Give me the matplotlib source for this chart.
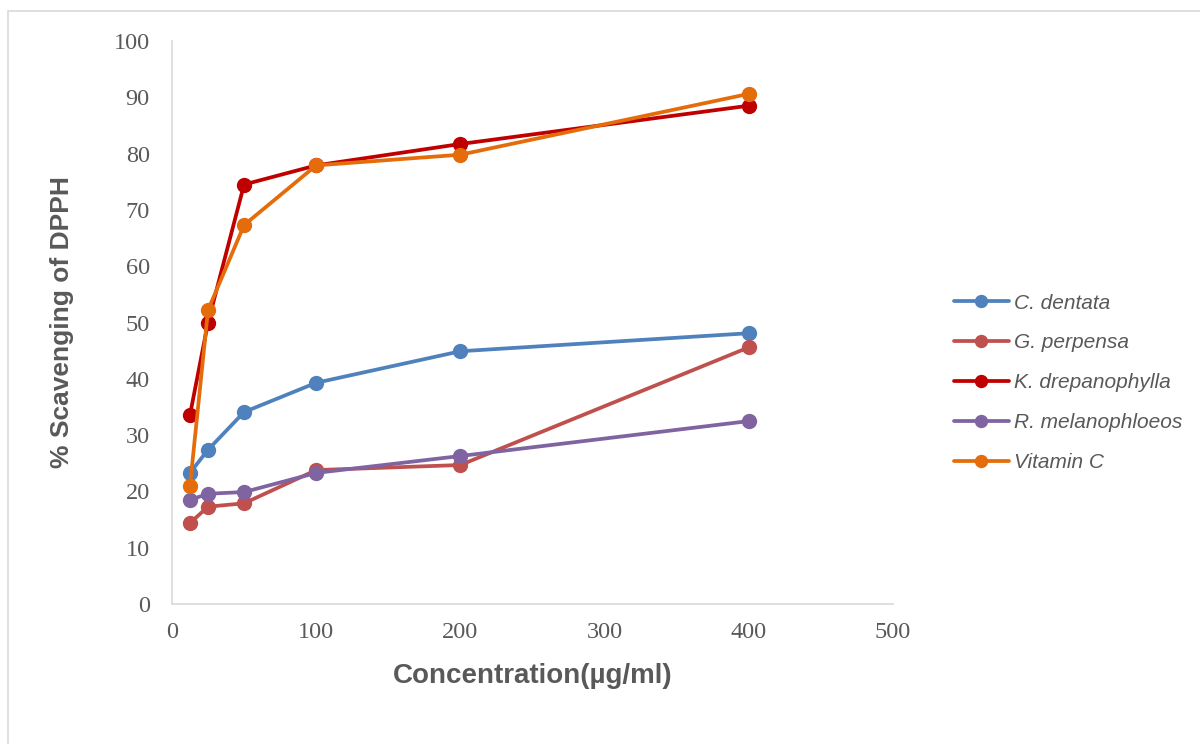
import matplotlib

matplotlib.use("Agg")
import matplotlib.pyplot as plt
from matplotlib.patches import Rectangle

# DPPH radical scavenging (%) against extract concentration (ug/ml)
concentration = [12.5, 25, 50, 100, 200, 400]
c_dentata = [23.3, 27.4, 34.1, 39.3, 44.9, 48.1]
g_perpensa = [14.4, 17.3, 17.9, 23.8, 24.7, 45.6]
k_drepanophylla = [33.6, 50.0, 74.5, 77.9, 81.7, 88.5]
r_melanophloeos = [18.5, 19.6, 19.9, 23.3, 26.3, 32.5]
vitamin_c = [21.0, 52.2, 67.3, 77.9, 79.8, 90.6]

series_names = ["C. dentata", "G. perpensa", "K. drepanophylla",
                "R. melanophloeos", "Vitamin C"]
series_values = [c_dentata, g_perpensa, k_drepanophylla, r_melanophloeos, vitamin_c]
colors = ["#4F81BD", "#C0504D", "#C00000", "#8064A2", "#E46C0A"]

TEXT_GREY = "#595959"
AXIS_GREY = "#D9D9D9"

fig = plt.figure(figsize=(12, 7.44), dpi=100)
ax = fig.add_axes([0.1433, 0.188, 0.6009, 0.757])

for name, vals, col in zip(series_names, series_values, colors):
    ax.plot(concentration, vals, color=col, lw=2.7, marker="o", ms=10,
            label=name, solid_capstyle="round")

ax.set_xlim(0, 500)
ax.set_ylim(0, 100)
ax.set_xticks(range(0, 501, 100))
ax.set_yticks(range(0, 101, 10))
ax.tick_params(length=0, labelsize=17.5, labelcolor=TEXT_GREY)
ax.tick_params(axis="y", pad=16)
ax.tick_params(axis="x", pad=13)
for lab in ax.get_xticklabels() + ax.get_yticklabels():
    lab.set_family("Liberation Serif")

for side in ("top", "right"):
    ax.spines[side].set_visible(False)
for side in ("left", "bottom"):
    ax.spines[side].set_color(AXIS_GREY)
    ax.spines[side].set_linewidth(1.2)

ax.set_xlabel("Concentration(µg/ml)", fontsize=20, fontweight="bold",
              color=TEXT_GREY, family="Liberation Sans")
ax.set_ylabel("% Scavenging of DPPH", fontsize=19, fontweight="bold",
              color=TEXT_GREY, family="Liberation Sans")
ax.xaxis.set_label_coords(0.5, -0.105)
ax.yaxis.set_label_coords(-0.136, 0.5)

leg = ax.legend(loc="center left", bbox_to_anchor=(1.059, 0.393), frameon=False,
                prop={"family": "Liberation Sans", "style": "italic", "size": 15},
                handlelength=2.6, handletextpad=0.25, labelspacing=1.0,
                markerscale=0.86)
for t in leg.get_texts():
    t.set_color(TEXT_GREY)

# chart-area border
fig.patches.append(Rectangle((8 / 1200, -0.1), 1.2, 1.0 - 11 / 744 + 0.1,
                             transform=fig.transFigure, fill=False,
                             edgecolor=AXIS_GREY, lw=1.2))

fig.savefig("out.png", dpi=100)
